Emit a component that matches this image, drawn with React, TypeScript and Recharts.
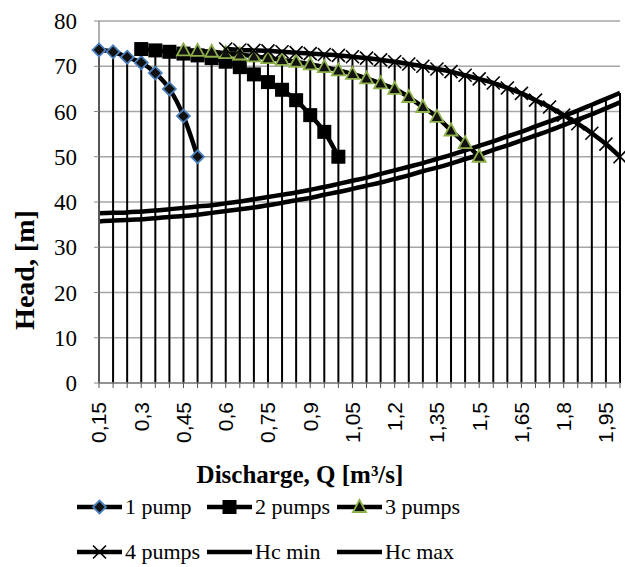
import { ComposedChart, Line, XAxis, YAxis, CartesianGrid, ErrorBar } from "recharts";

const SERIF = '"Liberation Serif", "Times New Roman", serif';
const SANS = '"Liberation Sans", Arial, sans-serif';

// discharge categories, m3/s
const discharge = [
  0.15, 0.2, 0.25, 0.3, 0.35, 0.4, 0.45, 0.5, 0.55, 0.6, 0.65, 0.7, 0.75, 0.8, 0.85, 0.9, 0.95, 1.0, 1.05,
  1.1, 1.15, 1.2, 1.25, 1.3, 1.35, 1.4, 1.45, 1.5, 1.55, 1.6, 1.65, 1.7, 1.75, 1.8, 1.85, 1.9, 1.95, 2.0,
];

// pump curves, each starting at its own discharge
const pump1Start = 0.15;
const pump1 = [73.6, 73.2, 72, 70.8, 68.5, 65, 59, 50];
const pump2Start = 0.3;
const pump2 = [73.8, 73.5, 73.2, 72.8, 72.4, 71.8, 71, 69.8, 68.2, 66.5, 64.8, 62.5, 59.2, 55.5, 50];
const pump3Start = 0.45;
const pump3 = [
  73.5, 73.4, 73.2, 72.9, 72.6, 72.2, 71.8, 71.4, 71, 70.4, 69.8, 69.1, 68.3, 67.3, 66.2, 65, 63.2, 61, 58.8,
  55.8, 53, 50,
];
const pump4Start = 0.6;
const pump4 = [
  73.8, 73.6, 73.5, 73.4, 73.2, 73, 72.8, 72.6, 72.4, 72.1, 71.8, 71.4, 71, 70.5, 70, 69.4, 68.8, 68, 67.2,
  66.3, 65.2, 64, 62.5, 61, 59.2, 57.3, 55.2, 52.8, 50,
];

// system curves over all categories
const hcMin = [
  35.7, 35.9, 36.0, 36.2, 36.4, 36.7, 36.9, 37.2, 37.6, 38.0, 38.4, 38.8, 39.3, 39.8, 40.4, 40.9, 41.6, 42.2,
  42.9, 43.6, 44.3, 45.1, 45.9, 46.8, 47.6, 48.5, 49.5, 50.4, 51.5, 52.5, 53.6, 54.7, 55.8, 57.0, 58.2, 59.4,
  60.7, 62.0,
];
const hcMax = [
  37.5, 37.6, 37.7, 37.9, 38.1, 38.4, 38.7, 39.0, 39.3, 39.7, 40.1, 40.6, 41.1, 41.6, 42.1, 42.7, 43.3, 44.0,
  44.7, 45.4, 46.2, 47.0, 47.8, 48.6, 49.5, 50.4, 51.4, 52.4, 53.4, 54.5, 55.5, 56.7, 57.8, 59.0, 60.2, 61.5,
  62.8, 64.1,
];

const yTicks = [0, 10, 20, 30, 40, 50, 60, 70, 80];

const pick = (arr: number[], start: number, i: number) => {
  const v = arr[i - discharge.indexOf(start)];
  return v === undefined ? null : v;
};

const data = discharge.map((q, i) => {
  const row = {
    q,
    p1: pick(pump1, pump1Start, i),
    p2: pick(pump2, pump2Start, i),
    p3: pick(pump3, pump3Start, i),
    p4: pick(pump4, pump4Start, i),
    hcMin: hcMin[i],
    hcMax: hcMax[i],
  };
  const vals = [row.p1, row.p2, row.p3, row.p4, row.hcMin, row.hcMax].filter((v) => v != null) as number[];
  const top = Math.max(...vals);
  // drop line from the highest point down to the axis
  return { ...row, top, drop: [top, 0] };
});

const diamond = (cx: number, cy: number, key?: string) => (
  <path
    key={key}
    d={`M${cx},${cy - 6.5}L${cx + 6.5},${cy}L${cx},${cy + 6.5}L${cx - 6.5},${cy}Z`}
    fill="#111"
    stroke="#4a7ebb"
    strokeWidth={1.8}
  />
);
const square = (cx: number, cy: number, key?: string) => (
  <rect key={key} x={cx - 7} y={cy - 7} width={14} height={14} fill="#000" />
);
const triangle = (cx: number, cy: number, key?: string) => (
  <path
    key={key}
    d={`M${cx},${cy - 7}L${cx + 6.5},${cy + 5}L${cx - 6.5},${cy + 5}Z`}
    fill="#111"
    stroke="#8db04a"
    strokeWidth={1.8}
  />
);
const cross = (cx: number, cy: number, key?: string) => (
  <g key={key} stroke="#000" strokeWidth={1.6}>
    <line x1={cx - 6.5} y1={cy - 6.5} x2={cx + 6.5} y2={cy + 6.5} />
    <line x1={cx - 6.5} y1={cy + 6.5} x2={cx + 6.5} y2={cy - 6.5} />
  </g>
);

const dotOf = (draw: typeof diamond, name: string) => (p: any) => {
  const key = `${name}-${p.index}`;
  if (p.value == null || p.cy == null) return <g key={key} />;
  return draw(p.cx, p.cy, key);
};

const XTick = (props: any) => {
  const { x, y, payload } = props;
  if (payload.index % 3 !== 0) return <g />;
  return (
    <text
      x={x}
      y={y}
      transform={`rotate(-90 ${x} ${y})`}
      textAnchor="end"
      dy="0.35em"
      fontFamily={SANS}
      fontSize={21}
      fill="#000"
    >
      {String(payload.value).replace(".", ",")}
    </text>
  );
};

const legendRows = [
  [
    { name: "1 pump", marker: diamond },
    { name: "2 pumps", marker: square },
    { name: "3 pumps", marker: triangle },
  ],
  [
    { name: "4 pumps", marker: cross },
    { name: "Hc min", marker: null },
    { name: "Hc max", marker: null },
  ],
];

export default function App() {
  return (
    <div style={{ position: "absolute", left: 0, top: 0, width: 625, height: 567, background: "#fff" }}>
      <ComposedChart width={625} height={567} data={data} margin={{ top: 21, right: 5, bottom: 0, left: 0 }}>
        <CartesianGrid vertical={false} stroke="#a6a6a6" strokeWidth={1.3} />
        <XAxis
          dataKey="q"
          type="category"
          scale="point"
          interval={0}
          height={184}
          tick={<XTick />}
          tickSize={5}
          tickMargin={14}
          tickLine={{ stroke: "#555" }}
          axisLine={{ stroke: "#868686", strokeWidth: 1.3 }}
        />
        <YAxis
          domain={[0, 80]}
          ticks={yTicks}
          width={99}
          tickSize={5}
          tickMargin={17}
          tickLine={{ stroke: "#868686" }}
          axisLine={{ stroke: "#868686", strokeWidth: 1.3 }}
          tick={{ fontFamily: SERIF, fontSize: 23, fill: "#000" }}
          allowDataOverflow
        />
        <Line dataKey="top" stroke="none" dot={false} activeDot={false} isAnimationActive={false}>
          <ErrorBar dataKey="drop" width={0} stroke="#000" strokeWidth={2} direction="y" />
        </Line>
        <Line
          dataKey="p1"
          type="monotone"
          stroke="#000"
          strokeWidth={4.5}
          dot={dotOf(diamond, "p1")}
          isAnimationActive={false}
        />
        <Line
          dataKey="p2"
          type="monotone"
          stroke="#000"
          strokeWidth={4.5}
          dot={dotOf(square, "p2")}
          isAnimationActive={false}
        />
        <Line
          dataKey="p3"
          type="monotone"
          stroke="#000"
          strokeWidth={4.5}
          dot={dotOf(triangle, "p3")}
          isAnimationActive={false}
        />
        <Line
          dataKey="p4"
          type="monotone"
          stroke="#000"
          strokeWidth={4.5}
          dot={dotOf(cross, "p4")}
          isAnimationActive={false}
        />
        <Line dataKey="hcMin" type="monotone" stroke="#000" strokeWidth={4.5} dot={false} isAnimationActive={false} />
        <Line dataKey="hcMax" type="monotone" stroke="#000" strokeWidth={4.5} dot={false} isAnimationActive={false} />
      </ComposedChart>
      <svg
        width={625}
        height={567}
        style={{ position: "absolute", left: 0, top: 0, pointerEvents: "none" }}
      >
        <text
          transform="translate(34,270) rotate(-90)"
          textAnchor="middle"
          fontFamily={SERIF}
          fontWeight="bold"
          fontSize={28}
          fill="#000"
        >
          Head, [m]
        </text>
        <text x={300} y={483} textAnchor="middle" fontFamily={SERIF} fontWeight="bold" fontSize={25} fill="#000">
          Discharge, Q [m³/s]
        </text>
        {legendRows.map((row, r) =>
          row.map((item, c) => {
            const x0 = 77 + c * 130;
            const ly = r === 0 ? 507 : 552;
            return (
              <g key={item.name}>
                <line x1={x0} y1={ly} x2={x0 + 45} y2={ly} stroke="#000" strokeWidth={4.5} />
                {item.marker ? item.marker(x0 + 22.5, ly) : null}
                <text x={x0 + 48} y={ly + 7} fontFamily={SERIF} fontSize={22} fill="#000">
                  {item.name}
                </text>
              </g>
            );
          })
        )}
      </svg>
    </div>
  );
}
